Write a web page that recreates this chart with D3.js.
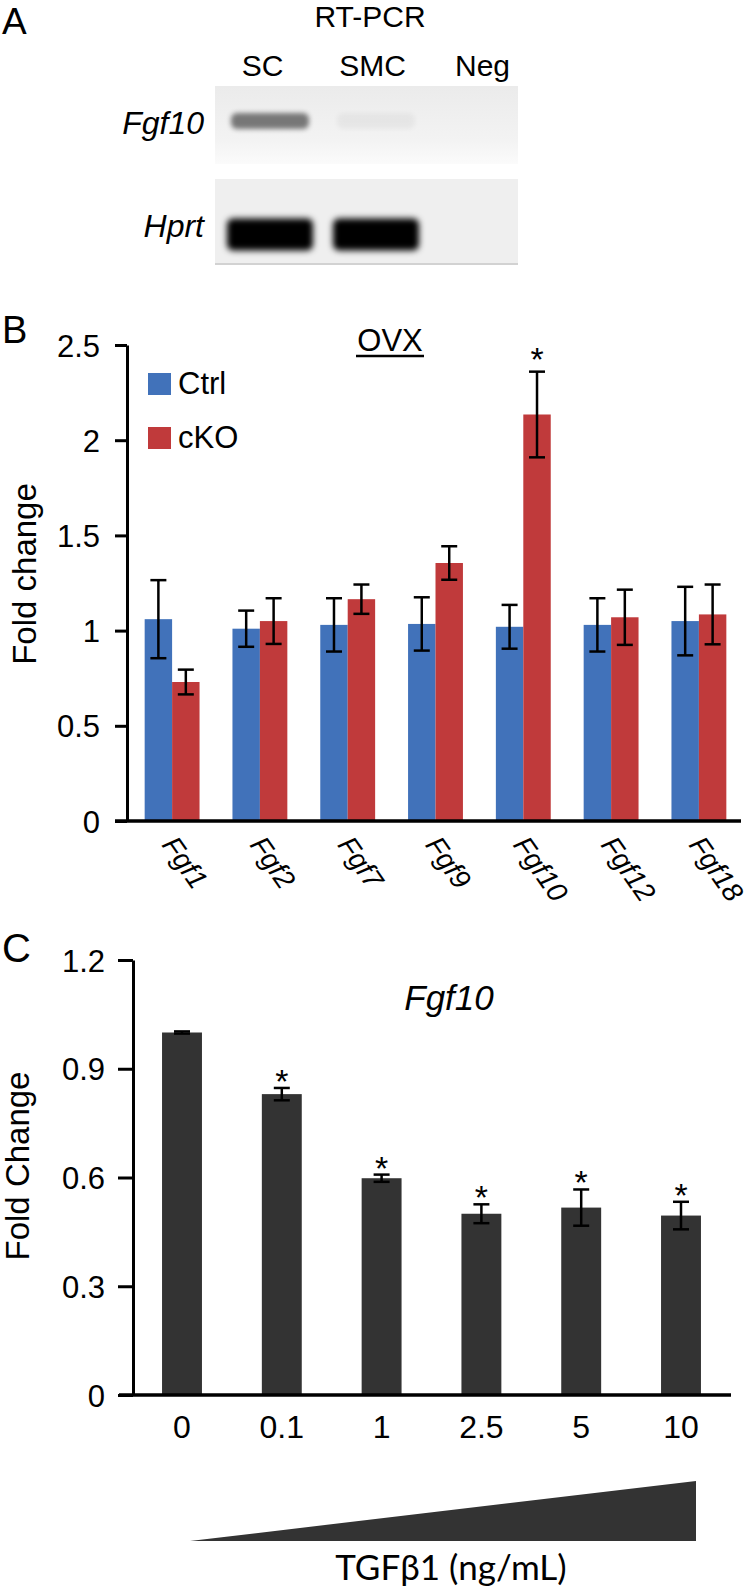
<!DOCTYPE html>
<html><head><meta charset="utf-8">
<script src="https://cdn.jsdelivr.net/npm/d3@7"></script>
<style>
html,body{margin:0;padding:0;background:#fff;}
svg{display:block;}
text{font-family:"Liberation Sans",Arial,Helvetica,sans-serif;fill:#000;}
</style></head>
<body>
<svg id="fig" width="750" height="1592"></svg>
<script>
// ---------- Panel A (gel) ----------
const gelLanes = ["SC", "SMC", "Neg"];
const gelRows = ["Fgf10", "Hprt"];
const fgf10Band = [0.5, 0.04, 0.0];
const hprtBand = [1.0, 1.0, 0.0];

// ---------- Panel B ----------
const genes = ["Fgf1", "Fgf2", "Fgf7", "Fgf9", "Fgf10", "Fgf12", "Fgf18"];
const groupsB = ["Ctrl", "cKO"];
const ctrlMean = [1.06, 1.01, 1.03, 1.035, 1.02, 1.03, 1.05];
const ctrlErr  = [0.205, 0.095, 0.14, 0.14, 0.115, 0.14, 0.18];
const ckoMean  = [0.73, 1.05, 1.165, 1.355, 2.135, 1.07, 1.085];
const ckoErr   = [0.065, 0.12, 0.077, 0.088, 0.225, 0.145, 0.157];
const ckoSig   = [false, false, false, false, true, false, false];
const ticksB = [0, 0.5, 1, 1.5, 2, 2.5];

// ---------- Panel C ----------
const doses = ["0", "0.1", "1", "2.5", "5", "10"];
const fgf10Mean = [1.0, 0.83, 0.598, 0.50, 0.517, 0.495];
const fgf10Err  = [0.003, 0.017, 0.01, 0.026, 0.05, 0.038];
const fgf10Sig  = [false, true, true, true, true, true];
const ticksC = [0, 0.3, 0.6, 0.9, 1.2];

const svg = d3.select("#fig");
const blue = "#4172BA", red = "#C03A3B", dark = "#333333";

// ===== Panel A =====
svg.append("text").attr("x", 2).attr("y", 34).attr("font-size", 37).text("A");
svg.append("text").attr("x", 370).attr("y", 27).attr("text-anchor", "middle").attr("font-size", 30).text("RT-PCR");
const defs = svg.append("defs");
defs.append("filter").attr("id", "blurS").attr("x", "-30%").attr("y", "-80%").attr("width", "160%").attr("height", "260%")
  .append("feGaussianBlur").attr("stdDeviation", 2.5);
defs.append("filter").attr("id", "blurL").attr("x", "-30%").attr("y", "-60%").attr("width", "160%").attr("height", "220%")
  .append("feGaussianBlur").attr("stdDeviation", 3);
const g1 = defs.append("linearGradient").attr("id", "gelTop").attr("x1", 0).attr("x2", 0).attr("y1", 0).attr("y2", 1);
g1.append("stop").attr("offset", "0%").attr("stop-color", "#ebebeb");
g1.append("stop").attr("offset", "70%").attr("stop-color", "#f3f3f3");
g1.append("stop").attr("offset", "100%").attr("stop-color", "#fbfbfb");
const laneX = d3.scaleBand().domain(gelLanes).range([225, 527]).paddingInner(0.151).paddingOuter(0);
const laneLab = d3.scalePoint().domain(gelLanes).range([262.5, 482.5]);
svg.append("g").selectAll("text").data(gelLanes).join("text")
  .attr("x", d => laneLab(d)).attr("y", 76).attr("text-anchor", "middle")
  .attr("font-size", 30).text(d => d);
const gelBoxes = [{row: "Fgf10", y: 86, h: 78, fill: "url(#gelTop)", bands: fgf10Band, by: 121, bh: 16, inset: 6, f: "blurS", ly: 134},
                  {row: "Hprt",  y: 179, h: 86, fill: "#efefef", bands: hprtBand, by: 234.5, bh: 32, inset: 2, f: "blurL", ly: 237}];
gelBoxes.forEach(b => {
  svg.append("rect").attr("x", 215).attr("y", b.y).attr("width", 303).attr("height", b.h).attr("fill", b.fill);
  svg.append("text").attr("x", 204).attr("y", b.ly).attr("text-anchor", "end")
    .attr("font-size", 32).attr("font-style", "italic").text(b.row);
  svg.append("g").selectAll("rect").data(gelLanes).join("rect")
    .attr("x", d => laneX(d) + b.inset).attr("y", b.by - b.bh / 2)
    .attr("width", laneX.bandwidth() - 2 * b.inset).attr("height", b.bh)
    .attr("rx", 6)
    .attr("fill", "#000").attr("opacity", (d, i) => b.bands[i]).attr("filter", `url(#${b.f})`);
});
svg.append("line").attr("x1", 215).attr("x2", 518).attr("y1", 264).attr("y2", 264).attr("stroke", "#c8c8c8").attr("stroke-width", 1.5);

// ===== Panel B =====
svg.append("text").attr("x", 2).attr("y", 343).attr("font-size", 38).text("B");
const yB = d3.scaleLinear().domain([0, 2.5]).range([821, 345]);
const xB = d3.scaleBand().domain(genes).range([128.2, 742.8]).paddingInner(0.375).paddingOuter(0.1875);
const xB1 = d3.scaleBand().domain(groupsB).range([0, xB.bandwidth()]);
const dataB = genes.map((g, i) => ({g, vals: [
  {s: "Ctrl", m: ctrlMean[i], e: ctrlErr[i], sig: false},
  {s: "cKO", m: ckoMean[i], e: ckoErr[i], sig: ckoSig[i]}]}));
const gB = svg.append("g");
const grp = gB.selectAll("g.grp").data(dataB).join("g").attr("class", "grp")
  .attr("transform", d => `translate(${xB(d.g)},0)`);
grp.selectAll("rect").data(d => d.vals).join("rect")
  .attr("x", d => xB1(d.s)).attr("y", d => yB(d.m))
  .attr("width", xB1.bandwidth()).attr("height", d => yB(0) - yB(d.m))
  .attr("fill", d => d.s === "Ctrl" ? blue : red);
const eb = grp.selectAll("g.eb").data(d => d.vals).join("g").attr("class", "eb")
  .attr("transform", d => `translate(${xB1(d.s) + xB1.bandwidth() / 2},0)`);
eb.append("line").attr("y1", d => yB(d.m - d.e)).attr("y2", d => yB(d.m + d.e)).attr("stroke", "#000").attr("stroke-width", 2.5);
eb.append("line").attr("x1", -8).attr("x2", 8).attr("y1", d => yB(d.m + d.e)).attr("y2", d => yB(d.m + d.e)).attr("stroke", "#000").attr("stroke-width", 2.5);
eb.append("line").attr("x1", -8).attr("x2", 8).attr("y1", d => yB(d.m - d.e)).attr("y2", d => yB(d.m - d.e)).attr("stroke", "#000").attr("stroke-width", 2.5);
eb.filter(d => d.sig).append("text").attr("y", d => yB(d.m + d.e) - 1).attr("text-anchor", "middle")
  .attr("font-size", 34).text("*");

const axBy = svg.append("g").attr("transform", "translate(127,0)")
  .call(d3.axisLeft(yB).tickValues(ticksB).tickFormat(d3.format("~g")).tickSize(12).tickSizeOuter(0));
axBy.select(".domain").attr("stroke-width", 3);
axBy.selectAll(".tick line").attr("stroke-width", 3);
axBy.selectAll(".tick text").attr("font-size", 31).attr("fill", "#000").attr("font-family", "Liberation Sans, Arial, sans-serif").attr("x", -27).attr("dy", "0.36em");
svg.append("line").attr("x1", 115).attr("x2", 741).attr("y1", yB(0)).attr("y2", yB(0)).attr("stroke", "#000").attr("stroke-width", 3.5);
svg.append("g").selectAll("text").data(genes).join("text")
  .attr("transform", d => `translate(${xB(d) + xB.bandwidth() / 2 - 11},845) rotate(55)`)
  .attr("font-size", 28).attr("font-style", "italic").text(d => d);
svg.append("text").attr("transform", `translate(36,574) rotate(-90)`)
  .attr("text-anchor", "middle").attr("font-size", 33).text("Fold change");
svg.append("text").attr("x", 390).attr("y", 351).attr("text-anchor", "middle").attr("font-size", 31).text("OVX");
svg.append("line").attr("x1", 356).attr("x2", 424).attr("y1", 356).attr("y2", 356).attr("stroke", "#000").attr("stroke-width", 2.5);
const legB = svg.append("g").selectAll("g").data(groupsB).join("g")
  .attr("transform", (d, i) => `translate(148,${373 + i * 54})`);
legB.append("rect").attr("width", 23).attr("height", 22).attr("fill", d => d === "Ctrl" ? blue : red);
legB.append("text").attr("x", 30).attr("y", 21).attr("font-size", 31).text(d => d);

// ===== Panel C =====
svg.append("text").attr("x", 2).attr("y", 962).attr("font-size", 40).text("C");
const yC = d3.scaleLinear().domain([0, 1.2]).range([1395, 960]);
const xC = d3.scaleBand().domain(doses).range([132.1, 730.9]).paddingInner(0.6).paddingOuter(0.3);
const dataC = doses.map((d, i) => ({d, m: fgf10Mean[i], e: fgf10Err[i], sig: fgf10Sig[i]}));
const gC = svg.append("g");
gC.selectAll("rect").data(dataC).join("rect")
  .attr("x", d => xC(d.d)).attr("y", d => yC(d.m)).attr("width", xC.bandwidth())
  .attr("height", d => yC(0) - yC(d.m)).attr("fill", dark);
const ebC = gC.selectAll("g.eb").data(dataC).join("g").attr("class", "eb")
  .attr("transform", d => `translate(${xC(d.d) + xC.bandwidth() / 2},0)`);
ebC.append("line").attr("y1", d => yC(d.m - d.e)).attr("y2", d => yC(d.m + d.e)).attr("stroke", "#000").attr("stroke-width", 2.5);
ebC.append("line").attr("x1", -8).attr("x2", 8).attr("y1", d => yC(d.m + d.e)).attr("y2", d => yC(d.m + d.e)).attr("stroke", "#000").attr("stroke-width", 2.5);
ebC.append("line").attr("x1", -8).attr("x2", 8).attr("y1", d => yC(d.m - d.e)).attr("y2", d => yC(d.m - d.e)).attr("stroke", "#000").attr("stroke-width", 2.5);
ebC.filter(d => d.sig).append("text").attr("y", d => yC(d.m + d.e) + 5).attr("text-anchor", "middle")
  .attr("font-size", 34).text("*");
const axCy = svg.append("g").attr("transform", "translate(133,0)")
  .call(d3.axisLeft(yC).tickValues(ticksC).tickFormat(d3.format("~g")).tickSize(15).tickSizeOuter(0));
axCy.select(".domain").attr("stroke-width", 3);
axCy.selectAll(".tick line").attr("stroke-width", 3);
axCy.selectAll(".tick text").attr("font-size", 31).attr("fill", "#000").attr("font-family", "Liberation Sans, Arial, sans-serif").attr("x", -28).attr("dy", "0.36em");
svg.append("line").attr("x1", 119).attr("x2", 731).attr("y1", yC(0)).attr("y2", yC(0)).attr("stroke", "#000").attr("stroke-width", 3.5);
svg.append("g").selectAll("text").data(doses).join("text")
  .attr("x", d => xC(d) + xC.bandwidth() / 2).attr("y", 1438).attr("text-anchor", "middle")
  .attr("font-size", 32).text(d => d);
svg.append("text").attr("transform", `translate(29,1166) rotate(-90)`)
  .attr("text-anchor", "middle").attr("font-size", 33).text("Fold Change");
svg.append("text").attr("x", 449).attr("y", 1010).attr("text-anchor", "middle").attr("font-size", 35)
  .attr("font-style", "italic").text("Fgf10");
// dose wedge
const wedgeX = d3.scaleLinear().domain([0, 1]).range([190, 696]);
const wedgeH = d3.scaleLinear().domain([0, 1]).range([0, 60]);
svg.append("path").attr("d", d3.line()([[wedgeX(0), 1541 - wedgeH(0)], [wedgeX(1), 1541 - wedgeH(1)], [wedgeX(1), 1541], [wedgeX(0), 1541]]) + "Z")
  .attr("fill", dark);
svg.append("text").attr("x", 451).attr("y", 1580).attr("text-anchor", "middle").attr("font-size", 35)
  .style("font-family", "Lato, 'Open Sans', sans-serif").text("TGFβ1 (ng/mL)");
</script>
</body></html>
